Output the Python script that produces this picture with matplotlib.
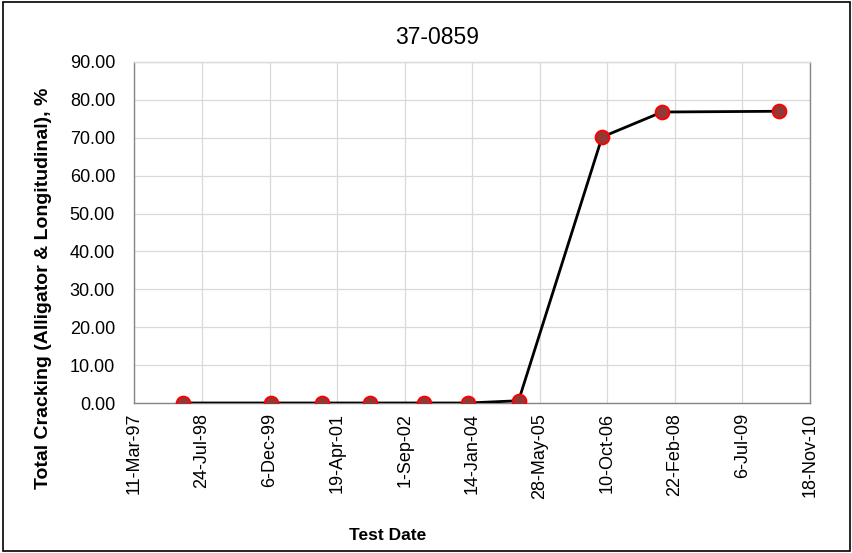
import datetime as dt
import matplotlib
matplotlib.use("Agg")
import matplotlib.pyplot as plt
from matplotlib.ticker import FormatStrFormatter, MultipleLocator
from matplotlib.patches import Rectangle

# data
test_dates = ["1998-03-07", "1999-12-14", "2000-12-27", "2001-12-19", "2003-01-23",
              "2003-12-12", "2004-12-22", "2006-09-01", "2007-11-19", "2010-04-05"]
cracking = [0.0, 0.0, 0.0, 0.0, 0.0, 0.0, 0.6, 70.2, 76.8, 77.0]

x_start = dt.date(1997, 3, 11)
x_end = dt.date(2010, 11, 18)
tick_step_days = 500

plt.rcParams['font.family'] = ['Liberation Sans', 'DejaVu Sans']

dates = [dt.datetime.strptime(d, "%Y-%m-%d") for d in test_dates]

fig = plt.figure(figsize=(8.53, 5.53), dpi=100, facecolor='w')
ax = fig.add_axes([134.5 / 853, 1 - 403 / 553, (810 - 134.5) / 853, (403 - 62) / 553])

ax.plot(dates, cracking, color='black', linewidth=2.0, marker='o', markersize=10,
        markerfacecolor='#953735', markeredgecolor='#ff0000', markeredgewidth=1.3, zorder=3)

# x axis: excel style, fixed 500-day major unit
ticks = [x_start + dt.timedelta(days=tick_step_days * i) for i in range(11)]
ax.set_xlim(x_start, x_end)
ax.set_xticks(ticks)
ax.set_xticklabels([f"{t.day}-{t.strftime('%b-%y')}" for t in ticks], rotation=90, fontsize=13)

ax.set_ylim(0, 90)
ax.yaxis.set_major_locator(MultipleLocator(10))
ax.yaxis.set_major_formatter(FormatStrFormatter('%.2f'))
ax.tick_params(axis='y', labelsize=13, pad=14)
ax.tick_params(axis='x', pad=7)
ax.tick_params(length=0)

ax.grid(True, color='#d9d9d9', linewidth=0.9)
ax.set_axisbelow(True)
for s in ax.spines.values():
    s.set_color('#868686')
    s.set_linewidth(1.0)
ax.spines['top'].set_color('#d9d9d9')

# excel put the titles a bit off-centre
ax.set_title("37-0859", fontsize=16.5, pad=13, x=0.448)
ax.set_xlabel("Test Date", fontsize=12.5, fontweight='bold')
ax.xaxis.set_label_coords(0.375, -0.367)
ax.set_ylabel("Total Cracking (Alligator & Longitudinal), %", fontsize=14, fontweight='bold')
ax.yaxis.set_label_coords(-0.122, 0.337)

# chart area border
fig.patches.append(Rectangle((0.003, 0.003), 0.994, 0.994, transform=fig.transFigure,
                             fill=False, edgecolor='black', linewidth=1.2))

fig.savefig("out.png", dpi=100)
